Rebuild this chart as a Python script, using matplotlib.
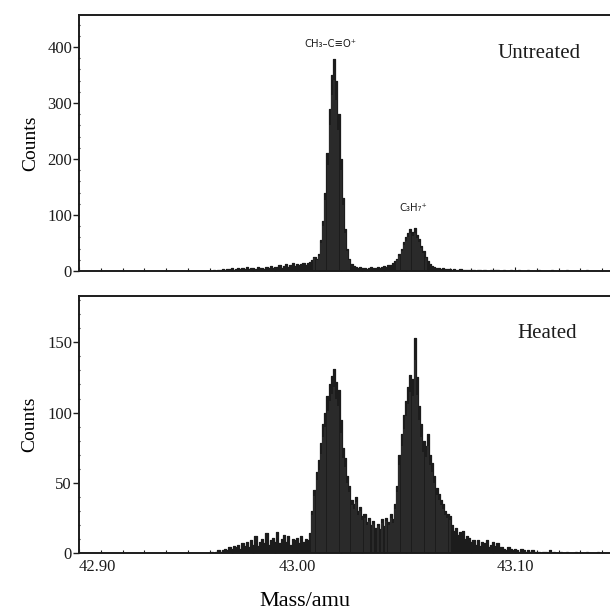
import numpy as np
import matplotlib
matplotlib.use("Agg")
from matplotlib import pyplot as plt
from matplotlib.ticker import MultipleLocator

plt.rcParams["font.family"] = ["Liberation Serif", "DejaVu Serif"]

# mass axis: regular bins starting at mass_start
mass_start = 42.960
bin_width = 0.001

# counts per bin (42.960 ... 43.140)
untreated_counts = [
    0, 0, 1, 0, 1, 1,
    3, 2, 4, 3, 5, 2, 4, 6, 3, 5, 4, 7, 3, 5, 6, 4, 8, 5, 6, 4, 7, 5, 9, 6, 8,
    7, 10, 6, 9, 12, 8, 11, 14, 9, 13, 10, 12, 15, 11, 14,
    16, 20, 25, 22, 30,
    55, 90, 140, 210, 290, 350, 378, 340, 280, 200, 130, 75, 40, 22,
    12, 9, 8, 6, 7, 5, 6, 4, 5, 7, 6, 5, 8, 6, 7, 9, 8, 10, 11, 14, 18,
    22, 30, 40, 52, 60, 68, 75, 70, 76, 65, 58, 45, 35, 25, 18, 12, 9,
    7, 5, 6, 4, 5, 3, 4, 3, 2, 3, 2, 2, 3, 1, 2, 1, 2, 1,
    1, 0, 1, 1, 0, 1, 0, 0, 1, 0, 1, 1, 0, 0, 1, 0, 0, 1, 0, 0,
    0, 1, 0, 0, 0, 1, 0, 0, 0, 0, 1, 0, 0, 0, 0, 0, 1, 0, 0, 0,
    0, 0, 0, 1, 0, 0, 0, 0, 0, 0, 0, 0, 1, 0, 0, 0, 0, 0, 0, 0,
]

heated_counts = [
    0, 1, 0, 1, 2, 1, 2,
    3, 2, 4, 3, 5, 4, 6, 3, 7, 5, 8, 4, 9, 6, 12, 5, 8, 10, 7, 14, 6, 9, 11, 8,
    15, 7, 10, 13, 8, 12, 6, 10, 9, 11, 7, 12, 8, 10, 9, 14,
    30, 45, 58, 66, 78, 92, 100, 112, 120, 126, 131, 122, 116, 95, 75, 68, 55,
    48, 38, 35, 40, 30, 33, 26, 28, 22, 25, 20, 23, 18, 21, 17, 24, 19, 25, 22, 28, 24, 35,
    48, 70, 85, 98, 108, 118, 127, 124, 153, 125, 105, 92, 80, 76, 85, 70, 64, 55,
    46, 42, 38, 35, 30, 28, 26, 20, 16, 18, 13, 15, 16, 10, 12, 11, 8,
    9, 6, 9, 5, 8, 7, 9, 4, 6, 8, 5, 7, 4,
    4, 3, 2, 4, 3, 2, 3, 2, 1, 3, 2, 1, 2, 1, 2, 1, 1,
    1, 0, 1, 1, 0, 2, 0, 1, 0, 0, 1, 0, 0, 1, 0, 0, 0, 1, 0, 0,
    0, 0, 1, 0, 0, 0, 0, 1, 0, 0,
]

panel_names = ["Untreated", "Heated"]
x_ticks = [42.90, 43.00, 43.10]
x_tick_labels = ["42.90", "43.00", "43.10"]
peak_labels = ["CH\u2083\u2013C\u2261O\u207a", "C\u2083H\u2087\u207a"]
peak_label_pos = [(43.0151, 405), (43.0532, 112)]

ink = "#1c1c1c"

fig = plt.figure(figsize=(6.10, 6.14), dpi=100)
ax_top = fig.add_axes([79 / 610, 1 - 271 / 614, 541 / 610, 256 / 614])
ax_bot = fig.add_axes([79 / 610, 1 - 553 / 614, 541 / 610, 257 / 614])

x_right = 42.90 + 541 / 2180

for ax, counts, ymax, ymajor, yminor in [
    (ax_top, untreated_counts, 457, 100, 20),
    (ax_bot, heated_counts, 183, 50, 10),
]:
    mass = mass_start + bin_width * np.arange(len(counts))
    counts = np.asarray(counts, dtype=float)
    ax.bar(mass, counts, width=bin_width, color=ink, linewidth=0)
    ax.step(mass, counts, where="mid", color=ink, lw=0.9)
    # faint striations inside the filled peaks
    ax.vlines(mass[counts > 20], 0, counts[counts > 20] * 0.9,
              color="#6e6e6e", lw=0.25)
    ax.set_xlim(42.90, x_right)
    ax.set_ylim(0, ymax)
    ax.yaxis.set_major_locator(MultipleLocator(ymajor))
    ax.yaxis.set_minor_locator(MultipleLocator(yminor))
    ax.xaxis.set_major_locator(MultipleLocator(0.1))
    ax.xaxis.set_minor_locator(MultipleLocator(0.01))
    ax.spines["right"].set_visible(False)
    for s in ["left", "top", "bottom"]:
        ax.spines[s].set_linewidth(1.4)
        ax.spines[s].set_color(ink)
    ax.tick_params(axis="y", which="major", direction="out", length=4, width=1,
                   labelsize=12, pad=1, colors=ink)
    ax.tick_params(axis="y", which="minor", direction="inout", length=2, width=0.8, colors=ink)
    ax.tick_params(axis="x", which="major", direction="in", length=3, width=0.8, colors=ink)
    ax.tick_params(axis="x", which="minor", direction="in", length=2, width=0.8, colors=ink)
    ax.set_ylabel("Counts", fontsize=14, labelpad=6)

ax_top.set_xticklabels([])
ax_bot.set_xticks(x_ticks)
ax_bot.set_xticklabels(x_tick_labels, fontsize=12)
ax_bot.get_xticklabels()[0].set_horizontalalignment("left")
ax_bot.tick_params(axis="x", which="major", pad=4)
ax_bot.set_xlabel("Mass/amu", fontsize=16, labelpad=8)
ax_bot.xaxis.set_label_coords((305 - 79) / 541, -0.15)

ax_top.text(0.773, 0.85, panel_names[0], transform=ax_top.transAxes,
            fontsize=15, va="center", ha="left", color=ink)
ax_bot.text(0.81, 0.856, panel_names[1], transform=ax_bot.transAxes,
            fontsize=15, va="center", ha="left", color=ink)

for text, (mx, my) in zip(peak_labels, peak_label_pos):
    ax_top.text(mx, my, text, fontsize=8, ha="center", va="center",
                family=["DejaVu Sans"], fontstretch="condensed", color=ink)

fig.savefig("out.png", dpi=100)
